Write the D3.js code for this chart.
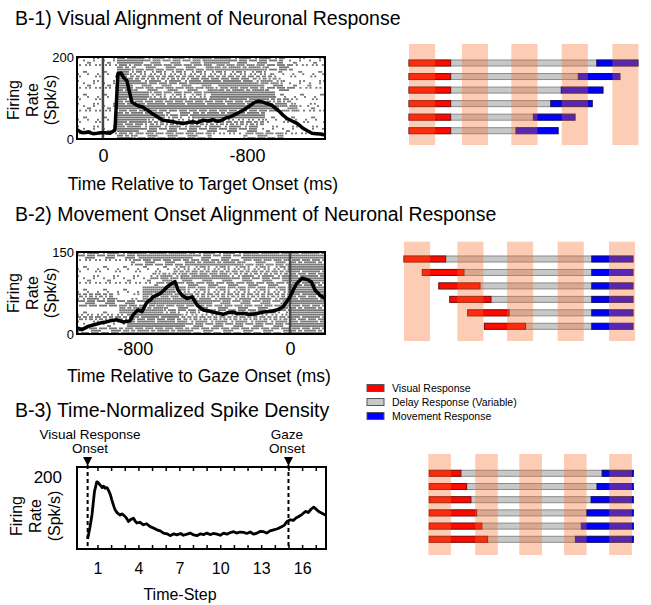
<!DOCTYPE html>
<meta charset="utf-8">
<style>
body { margin: 0; background: #fff; }
text { font-family: "Liberation Sans", Arial, sans-serif; fill: #000; }
.title { font-size: 19.5px; }
.xlab { font-size: 17.5px; text-anchor: middle; }
.ylab { font-size: 16px; text-anchor: middle; }
.axis text { font-family: "Liberation Sans", Arial, sans-serif; fill: #000; }
.axis .domain { display: none; }
.frame { fill: none; stroke: #000; stroke-width: 2; }
.rate { fill: none; stroke: #000; stroke-width: 3.5; stroke-linejoin: round; }
.spk { fill: #767676; }
.legend text { font-size: 10.5px; }
.note { font-size: 13.5px; text-anchor: middle; }
</style>
<svg width="651" height="605"></svg>
<script src="https://cdn.jsdelivr.net/npm/d3@7"></script>
<script>

// B-1: firing rate aligned on target onset (ms, spk/s)
var visTime = [-144, -128, -111, -80, -55, -33, 0, 39, 67, 83, 100, 115, 133, 150, 161, 175, 189, 205, 222, 236, 250, 270, 289, 310, 333, 360, 389, 415, 444, 470, 500, 525, 556, 585, 611, 640, 661, 685, 706, 735, 761, 785, 806, 825, 844, 865, 889, 915, 939, 960, 983, 1000, 1022, 1050, 1078, 1095, 1111, 1135, 1161, 1185, 1206, 1233];
var visRate = [23, 18, 15, 17, 13, 14, 16, 14, 22, 159, 161, 150, 142, 110, 90, 86, 82, 80, 78, 73, 70, 63, 58, 52, 46, 44, 42, 40, 38, 40, 42, 40, 46, 44, 47, 43, 46, 52, 54, 60, 66, 72, 78, 84, 90, 92, 90, 86, 82, 74, 66, 58, 50, 44, 38, 32, 26, 20, 14, 13, 12, 10];
var visTicks = [0, 800];
var visTickLabels = ["0", "-800"];

// B-2: firing rate aligned on gaze onset
var movTime = [-1098, -1072, -1041, -1010, -979, -950, -928, -892, -861, -825, -809, -784, -763, -737, -720, -706, -670, -650, -634, -608, -593, -577, -557, -531, -505, -479, -448, -420, -397, -370, -345, -320, -294, -270, -242, -215, -191, -165, -139, -110, -88, -60, -36, 0, 18, 36, 62, 93, 110, 129, 155, 180];
var movRate = [11, 8, 14, 17, 20, 22, 24, 26, 22, 24, 35, 44, 41, 59, 62, 68, 74, 80, 86, 93, 96, 80, 71, 65, 68, 53, 44, 42, 40, 38, 36, 39, 40, 37, 38, 36, 36, 38, 40, 41, 42, 45, 50, 68, 82, 93, 102, 99, 95, 80, 71, 65];
var movTicks = [-800, 0];
var movTickLabels = ["-800", "0"];

// B-3: time-normalized spike density
var normStep = [0.28, 0.45, 0.6, 0.78, 0.95, 1.05, 1.2, 1.35, 1.45, 1.56, 1.7, 1.8, 1.95, 2.05, 2.2, 2.3, 2.45, 2.66, 2.8, 3.03, 3.15, 3.27, 3.45, 3.64, 3.75, 3.89, 4.1, 4.37, 4.6, 4.86, 5.1, 5.36, 5.6, 5.84, 6.1, 6.33, 6.6, 6.82, 7.1, 7.3, 7.56, 7.8, 8.05, 8.29, 8.55, 8.8, 9.02, 9.25, 9.5, 9.76, 10.0, 10.25, 10.49, 10.7, 10.98, 11.2, 11.45, 11.71, 11.95, 12.2, 12.44, 12.7, 12.95, 13.18, 13.4, 13.65, 13.91, 14.2, 14.53, 14.7, 14.89, 15.14, 15.35, 15.55, 15.75, 16.0, 16.24, 16.45, 16.65, 16.85, 17.0, 17.21, 17.45, 17.7];
var normRate = [28, 60, 95, 159, 186, 184, 177, 170, 174, 168, 170, 163, 150, 136, 118, 108, 100, 94, 97, 90, 84, 76, 82, 85, 78, 72, 74, 67, 70, 62, 58, 53, 50, 44, 42, 37, 42, 39, 43, 38, 41, 44, 39, 37, 42, 40, 44, 40, 43, 41, 38, 44, 41, 45, 48, 44, 47, 46, 43, 47, 41, 44, 49, 48, 44, 50, 53, 56, 62, 66, 76, 81, 79, 86, 90, 96, 104, 101, 110, 116, 111, 104, 99, 94];
var normTicks = [1, 4, 7, 10, 13, 16];
var visOnsetStep = 0.28, gazeOnsetStep = 15;

// raster density, 12 bands of trials, segments [from ms, to ms, density 1-3]
var visRaster = [
  [[-144, 78, 1], [78, 220, 3], [220, 560, 2], [560, 700, 3], [700, 1000, 2], [1000, 1233, 1]],
  [[-144, 78, 1], [78, 160, 3], [160, 620, 2], [620, 900, 3], [900, 1060, 2], [1060, 1233, 1]],
  [[-144, 78, 1], [78, 150, 3], [150, 940, 2], [940, 1233, 1]],
  [[-144, 78, 1], [78, 200, 3], [200, 500, 2], [500, 820, 3], [820, 1000, 2], [1000, 1233, 1]],
  [[-144, 78, 1], [78, 170, 3], [170, 640, 2], [640, 900, 3], [900, 1080, 2], [1080, 1233, 1]],
  [[-144, 78, 1], [78, 260, 3], [260, 600, 2], [600, 950, 3], [950, 1233, 1]],
  [[-144, 78, 1], [78, 900, 3], [900, 1060, 2], [1060, 1233, 1]],
  [[-144, 78, 1], [78, 980, 3], [980, 1100, 2], [1100, 1233, 1]],
  [[-144, 78, 1], [78, 350, 3], [350, 500, 2], [500, 900, 3], [900, 1233, 1]],
  [[-144, 78, 1], [78, 250, 3], [250, 900, 2], [900, 1233, 1]],
  [[-144, 78, 1], [78, 200, 3], [200, 850, 2], [850, 1233, 1]],
  [[-144, 78, 1], [78, 170, 3], [170, 600, 2], [600, 780, 1], [780, 1000, 2], [1000, 1233, 1]]
];
var movRaster = [
  [[-1098, -780, 2], [-780, -500, 3], [-500, -200, 2], [-200, 180, 3]],
  [[-1098, -820, 1], [-820, -520, 2], [-520, -250, 3], [-250, 0, 2], [0, 180, 3]],
  [[-1098, -600, 1], [-600, 0, 2], [0, 180, 3]],
  [[-1098, -720, 1], [-720, -560, 2], [-560, -300, 3], [-300, 0, 2], [0, 180, 3]],
  [[-1098, -700, 1], [-700, 0, 2], [0, 180, 3]],
  [[-1098, -760, 1], [-760, -600, 3], [-600, 0, 2], [0, 180, 3]],
  [[-1098, -900, 2], [-900, -760, 1], [-760, -520, 3], [-520, 0, 2], [0, 180, 3]],
  [[-1098, -700, 2], [-700, -400, 3], [-400, 0, 2], [0, 180, 3]],
  [[-1098, -880, 1], [-880, -650, 3], [-650, 0, 2], [0, 180, 3]],
  [[-1098, -830, 2], [-830, -560, 3], [-560, 0, 2], [0, 180, 3]],
  [[-1098, -840, 1], [-840, -540, 3], [-540, 0, 2], [0, 180, 3]],
  [[-1098, -860, 2], [-860, -520, 3], [-520, 0, 2], [0, 180, 3]]
];

// schematic trials (0-100 along each panel)
var visRedStart = [0, 0, 0, 0, 0, 0];
var visRedEnd = [18.2, 18.2, 18.2, 18.2, 18.2, 18.2];
var visBlueStart = [82, 73.9, 66.5, 61.9, 54.3, 46.7];
var visBlueEnd = [100, 92.1, 84.7, 80, 72.5, 65.1];
var visBands = [0, 23.1, 44.7, 66.7, 88.8];

var movRedStart = [0, 8, 15.2, 20, 27.8, 35.1];
var movRedEnd = [18.2, 26.2, 33.2, 38, 45.9, 53.1];
var movBlueStart = [82, 82, 82, 82, 82, 82];
var movBlueEnd = [100, 100, 100, 100, 100, 100];
var movBands = [0, 23.3, 45, 67.1, 89.5];

var normRedStart = [0, 0, 0, 0, 0, 0];
var normRedEnd = [15.5, 18.3, 20.4, 23.2, 25.8, 28.6];
var normBlueStart = [84.7, 82.2, 79.3, 77.2, 74.5, 71.6];
var normBlueEnd = [100, 100, 100, 100, 100, 100];
var normBands = [-0.5, 22.5, 44.1, 66, 88.2];

var legendNames = ["Visual Response", "Delay Response (Variable)", "Movement Response"];
var legendColors = ["#ff0000", "#c8c8c8", "#0000ff"];

var svg = d3.select("svg");

function title(txt, y) {
  svg.append("text").attr("class", "title").attr("x", 15).attr("y", y).text(txt);
}

function yLabel(cx, cy, offs) {
  var g = svg.append("g").attr("transform", "translate(" + cx + "," + cy + ") rotate(-90)");
  ["Firing", "Rate", "(Spk/s)"].forEach(function(t, i) {
    g.append("text").attr("class", "ylab").attr("y", offs[i]).text(t);
  });
}

// spike ticks: density level sets how many 2px slots in a segment get a tick
function raster(bands, x, top, bottom) {
  var rowH = (bottom - top) / 36, spikes = [];
  bands.forEach(function(segs, b) {
    for (var k = 0; k < 3; k++) {
      var r = b * 3 + k;
      segs.forEach(function(s) {
        var a = x(s[0]), e = x(s[1]);
        for (var i = 0, px = a; px < e - 1; px += 2, i++) {
          var q = (i * 7 + r * 13 + i * r + ((i * i) % 5)) % 10;
          if ((s[2] === 3 && q < 9) || (s[2] === 2 && q < 6) || (s[2] === 1 && q < 2))
            spikes.push([px, top + r * rowH + 0.3]);
        }
      });
    }
  });
  svg.append("g").selectAll("rect").data(spikes).enter().append("rect")
      .attr("class", "spk")
      .attr("x", function(d) { return d[0]; })
      .attr("y", function(d) { return d[1]; })
      .attr("width", 2)
      .attr("height", 1.8);
}

function ratePanel(opt) {
  var x = d3.scaleLinear().domain(opt.xDomain).range([77, 325]);
  var y = d3.scaleLinear().domain([0, opt.yMax]).range([opt.bottom, opt.top]);
  raster(opt.raster, x, opt.top, opt.bottom);
  svg.append("line")
      .attr("x1", x(0)).attr("x2", x(0))
      .attr("y1", opt.top).attr("y2", opt.bottom)
      .attr("stroke", "#444").attr("stroke-width", 2.5);
  svg.append("path")
      .datum(opt.time.map(function(t, i) { return [t, opt.rate[i]]; }))
      .attr("class", "rate")
      .attr("d", d3.line().x(function(d) { return x(d[0]); }).y(function(d) { return y(d[1]); }));
  svg.append("rect").attr("class", "frame")
      .attr("x", 77).attr("y", opt.top).attr("width", 248).attr("height", opt.bottom - opt.top);
  svg.append("g").attr("class", "axis")
      .attr("transform", "translate(0," + opt.bottom + ")")
      .call(d3.axisBottom(x).tickValues(opt.ticks).tickSize(0).tickPadding(opt.pad)
        .tickFormat(function(d, i) { return opt.labels[i]; }))
      .selectAll("text").style("font-size", "18px");
  svg.append("g").attr("class", "axis")
      .attr("transform", "translate(76,0)")
      .call(d3.axisLeft(y).tickValues([0, opt.yMax]).tickSize(0).tickPadding(2))
      .selectAll("text").style("font-size", "13px");
  svg.append("text").attr("class", "xlab").attr("x", opt.labX).attr("y", opt.labY).text(opt.xTitle);
}

function schematic(opt) {
  var x = d3.scaleLinear().domain([0, 100]).range(opt.xRange);
  var y = d3.scalePoint().domain(d3.range(6)).range(opt.rows);
  var g = svg.append("g");
  var rows = d3.range(6);
  g.selectAll(".gray").data(rows).enter().append("rect")
      .attr("x", function(i) { return x(opt.redStart[i]); })
      .attr("y", function(i) { return y(i) - 3; })
      .attr("width", function(i) { return x(opt.blueEnd[i]) - x(opt.redStart[i]); })
      .attr("height", 6)
      .attr("fill", "#c8c8c8").attr("stroke", "#8c8c8c");
  g.selectAll(".red").data(rows).enter().append("rect")
      .attr("x", function(i) { return x(opt.redStart[i]); })
      .attr("y", function(i) { return y(i) - 3; })
      .attr("width", function(i) { return x(opt.redEnd[i]) - x(opt.redStart[i]); })
      .attr("height", 6)
      .attr("fill", "#ff0a00").attr("stroke", "#7a1010");
  g.selectAll(".blue").data(rows).enter().append("rect")
      .attr("x", function(i) { return x(opt.blueStart[i]); })
      .attr("y", function(i) { return y(i) - 3; })
      .attr("width", function(i) { return x(opt.blueEnd[i]) - x(opt.blueStart[i]); })
      .attr("height", 6)
      .attr("fill", "#0000ff").attr("stroke", "#10105a");
  g.selectAll(".band").data(opt.bands).enter().append("rect")
      .attr("x", function(d) { return x(d); })
      .attr("y", opt.bandY[0])
      .attr("width", x(opt.bandW) - x(0))
      .attr("height", opt.bandY[1] - opt.bandY[0])
      .attr("fill", "rgb(250,110,40)").attr("fill-opacity", 0.35);
}

// ---- B-1 ----
title("B-1) Visual Alignment of Neuronal Response", 25);
ratePanel({ xDomain: [-144, 1233], yMax: 200, top: 57, bottom: 139, raster: visRaster,
  time: visTime, rate: visRate, ticks: visTicks, labels: visTickLabels, pad: 10,
  xTitle: "Time Relative to Target Onset (ms)", labX: 203, labY: 190 });
yLabel(0, 100, [19, 37.5, 56]);
schematic({ xRange: [409, 638], rows: [63, 130.7], bandY: [44, 145], bands: visBands, bandW: 11.4,
  redStart: visRedStart, redEnd: visRedEnd, blueStart: visBlueStart, blueEnd: visBlueEnd });

// ---- B-2 ----
title("B-2) Movement Onset Alignment of Neuronal Response", 221);
ratePanel({ xDomain: [-1098, 180], yMax: 150, top: 252, bottom: 334, raster: movRaster,
  time: movTime, rate: movRate, ticks: movTicks, labels: movTickLabels, pad: 8,
  xTitle: "Time Relative to Gaze Onset (ms)", labX: 199, labY: 382 });
yLabel(0, 293, [19, 37.5, 56]);
schematic({ xRange: [404, 633], rows: [259, 326.3], bandY: [241.7, 341], bands: movBands, bandW: 11.4,
  redStart: movRedStart, redEnd: movRedEnd, blueStart: movBlueStart, blueEnd: movBlueEnd });

// ---- legend ----
var leg = svg.append("g").attr("class", "legend");
legendNames.forEach(function(n, i) {
  var cy = 388 + i * 14;
  leg.append("rect").attr("x", 367).attr("y", cy - 3.5).attr("width", 17).attr("height", 7)
      .attr("fill", legendColors[i]).attr("stroke", "#555");
  leg.append("text").attr("x", 392).attr("y", cy + 3.8).text(n);
});

// ---- B-3 ----
title("B-3) Time-Normalized Spike Density", 417);
(function() {
  var top = 467, bottom = 549;
  var x = d3.scaleLinear().domain([-0.5, 17.75]).range([77, 326]);
  var y = d3.scaleLinear().domain([0, 227]).range([bottom, top]);
  svg.append("path")
      .datum(normStep.map(function(s, i) { return [s, normRate[i]]; }))
      .attr("class", "rate").style("stroke-width", 2.8)
      .attr("d", d3.line().x(function(d) { return x(d[0]); }).y(function(d) { return y(d[1]); }));
  [visOnsetStep, gazeOnsetStep].forEach(function(s) {
    svg.append("line").attr("x1", x(s)).attr("x2", x(s)).attr("y1", top - 2).attr("y2", bottom)
        .attr("stroke", "#000").attr("stroke-width", 2).attr("stroke-dasharray", "4,3");
    svg.append("path").attr("d", "M" + (x(s) - 4.5) + "," + (top - 10) + "h9l-4.5,9z").attr("fill", "#000");
  });
  svg.append("rect").attr("class", "frame").attr("x", 77).attr("y", top).attr("width", 249).attr("height", bottom - top);
  var minor = d3.range(1, 18);
  svg.append("g").attr("class", "axis").attr("transform", "translate(0," + bottom + ")")
      .call(d3.axisBottom(x).tickValues(minor).tickSize(-4).tickFormat(""))
      .selectAll("line").attr("stroke-width", 1.5);
  svg.append("g").attr("class", "axis").attr("transform", "translate(0," + top + ")")
      .call(d3.axisTop(x).tickValues(minor).tickSize(-4).tickFormat(""))
      .selectAll("line").attr("stroke-width", 1.5);
  svg.append("g").attr("class", "axis").attr("transform", "translate(0," + bottom + ")")
      .call(d3.axisBottom(x).tickValues(normTicks).tickSize(0).tickPadding(13.5))
      .selectAll("text").style("font-size", "16px");
  svg.append("g").attr("class", "axis").attr("transform", "translate(64,0)")
      .call(d3.axisLeft(y).tickValues([200]).tickSize(0).tickPadding(2))
      .selectAll("text").style("font-size", "17px");
  svg.append("text").attr("class", "xlab").style("font-size", "16px").attr("x", 180).attr("y", 600).text("Time-Step");
  svg.append("text").attr("class", "note").attr("x", 90).attr("y", 439).text("Visual Response");
  svg.append("text").attr("class", "note").attr("x", 90).attr("y", 453).text("Onset");
  svg.append("text").attr("class", "note").attr("x", 287).attr("y", 439).text("Gaze");
  svg.append("text").attr("class", "note").attr("x", 287).attr("y", 453).text("Onset");
})();
yLabel(0, 516, [22, 41, 60]);
schematic({ xRange: [429.3, 633.3], rows: [473.3, 539.3], bandY: [454, 555], bands: normBands, bandW: 11.1,
  redStart: normRedStart, redEnd: normRedEnd, blueStart: normBlueStart, blueEnd: normBlueEnd });

</script>
